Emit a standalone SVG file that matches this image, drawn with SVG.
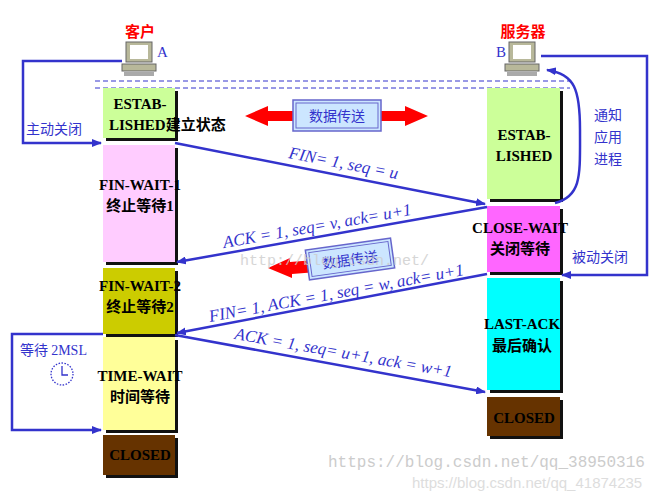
<svg xmlns="http://www.w3.org/2000/svg" width="664" height="499" viewBox="0 0 664 499">
<defs>
<marker id="ah" markerWidth="10" markerHeight="8" refX="9" refY="4" orient="auto" markerUnits="userSpaceOnUse"><path d="M0,0 L10,4 L0,8 z" fill="#3333cc"/></marker>
<g id="pc"><rect x="4" y="0" width="26" height="20" fill="#b8b89a" stroke="#666" stroke-width="1"/><rect x="8" y="3" width="18" height="14" fill="#fff"/><rect x="0" y="22" width="34" height="7" fill="#b8b89a" stroke="#666"/><rect x="2" y="30" width="30" height="4" fill="#aaa"/></g>
</defs>
<style>
.st{font-family:"Liberation Serif","Noto Sans CJK SC",serif;font-weight:bold;font-size:15px;fill:#000;text-anchor:middle}
.bl{font-family:"Liberation Serif",serif;font-style:italic;font-size:17px;fill:#3333cc}
.cn{font-family:"Noto Sans CJK SC",sans-serif;font-size:14px;fill:#3333cc}
.ln{stroke:#3333cc;stroke-width:2.5;fill:none}
.sh{fill:#111}
</style>
<rect width="664" height="499" fill="#fff"/>
<text x="140" y="37" font-family="Noto Sans CJK SC,sans-serif" font-weight="bold" font-size="15" fill="#ff0000" text-anchor="middle">客户</text>
<text x="523" y="37" font-family="Noto Sans CJK SC,sans-serif" font-weight="bold" font-size="15" fill="#ff0000" text-anchor="middle">服务器</text>
<use href="#pc" x="122" y="42"/><use href="#pc" x="505" y="42"/>
<text x="157" y="57" font-family="Liberation Serif,serif" font-size="15" fill="#3333cc">A</text>
<text x="496" y="57" font-family="Liberation Serif,serif" font-size="15" fill="#3333cc">B</text>
<line x1="95" y1="81" x2="570" y2="81" stroke="#3333cc" stroke-dasharray="5,3"/>
<line x1="95" y1="88" x2="570" y2="88" stroke="#3333cc" stroke-dasharray="5,3"/>
<g id="c-estab"><rect x="106" y="91" width="72" height="50" class="sh"/><rect x="103" y="88" width="72" height="50" fill="#ccff99"/><text x="140" y="109" class="st">ESTAB-</text><text x="109" y="130" class="st" style="text-anchor:start">LISHED建立状态</text></g>
<g id="c-fw1"><rect x="106" y="148" width="72" height="117" class="sh"/><rect x="103" y="145" width="72" height="117" fill="#ffccff"/><text x="140" y="190" class="st">FIN-WAIT-1</text><text x="140" y="211" class="st">终止等待1</text></g>
<g id="c-fw2"><rect x="106" y="271" width="72" height="66" class="sh"/><rect x="103" y="268" width="72" height="66" fill="#cccc00"/><text x="140" y="291" class="st">FIN-WAIT-2</text><text x="140" y="312" class="st">终止等待2</text></g>
<g id="c-tw"><rect x="106" y="340" width="72" height="93" class="sh"/><rect x="103" y="337" width="72" height="93" fill="#ffff99"/><text x="140" y="381" class="st">TIME-WAIT</text><text x="140" y="402" class="st">时间等待</text></g>
<g id="c-closed"><rect x="106" y="438" width="72" height="40" class="sh"/><rect x="103" y="435" width="72" height="40" fill="#663300"/><text x="140" y="460" class="st">CLOSED</text></g>
<g id="s-estab"><rect x="490" y="91" width="73" height="111" class="sh"/><rect x="487" y="88" width="73" height="111" fill="#ccff99"/><text x="524" y="140" class="st">ESTAB-</text><text x="524" y="161" class="st">LISHED</text></g>
<g id="s-cw"><rect x="490" y="209" width="73" height="66" class="sh"/><rect x="487" y="206" width="73" height="66" fill="#ff66ff"/><text x="520" y="233" class="st">CLOSE-WAIT</text><text x="520" y="254" class="st">关闭等待</text></g>
<g id="s-la"><rect x="490" y="281" width="73" height="112" class="sh"/><rect x="487" y="278" width="73" height="112" fill="#00ffff"/><text x="522" y="329" class="st">LAST-ACK</text><text x="522" y="351" class="st">最后确认</text></g>
<g id="s-closed"><rect x="490" y="400" width="73" height="39" class="sh"/><rect x="487" y="397" width="73" height="39" fill="#663300"/><text x="524" y="423" class="st">CLOSED</text></g>
<g id="data1"><path d="M245,116 L268,106 L268,111 L405,111 L405,106 L428,116 L405,126 L405,121 L268,121 L268,126 z" fill="#ff0000"/><rect x="293" y="100" width="88" height="31" fill="#cce6ff" stroke="#6666cc" stroke-width="1.5"/><rect x="296" y="103" width="82" height="25" fill="none" stroke="#6666cc"/><text x="337" y="121" class="cn" text-anchor="middle" font-size="15">数据传送</text></g>
<g id="data2"><path d="M268,268 L290,258 L290,262 L315,260 L317,272 L292,274 L292,278 z" fill="#ff0000"/><g transform="rotate(-8 350 259)"><rect x="307" y="244" width="86" height="30" fill="#cce6ff" stroke="#6666cc" stroke-width="1.5"/><rect x="310" y="247" width="80" height="24" fill="none" stroke="#6666cc"/><text x="350" y="265" class="cn" text-anchor="middle" font-size="15">数据传送</text></g></g>
<g id="connectors">
<path class="ln" d="M122,61 L23,61 L23,143 L101,143" marker-end="url(#ah)"/>
<path class="ln" d="M541,56 L647,56 L647,275 L562,275" marker-end="url(#ah)"/>
<path class="ln" d="M555,203 C582,196 580,175 580,130 C580,90 575,74 547,70" marker-end="url(#ah)"/>
<path class="ln" d="M103,334 L12,334 L12,430 L101,430" marker-end="url(#ah)"/>
<line class="ln" x1="175" y1="143" x2="485" y2="204" marker-end="url(#ah)"/>
<line class="ln" x1="487" y1="207" x2="177" y2="262" marker-end="url(#ah)"/>
<line class="ln" x1="487" y1="274" x2="177" y2="333" marker-end="url(#ah)"/>
<line class="ln" x1="175" y1="335" x2="485" y2="392" marker-end="url(#ah)"/>
</g>
<text x="26" y="134" class="cn">主动关闭</text>
<text x="572" y="262" class="cn">被动关闭</text>
<text x="594" y="120" class="cn">通知</text><text x="594" y="142" class="cn">应用</text><text x="594" y="164" class="cn">进程</text>
<text x="20" y="355" class="cn">等待 <tspan font-family="Liberation Serif,serif">2MSL</tspan></text>
<g id="clock"><circle cx="62" cy="374" r="11" fill="#fff" stroke="#3333cc" stroke-width="1.3" stroke-dasharray="1.5,1.5"/><path d="M62,366 L62,375 L68,375" stroke="#3333cc" stroke-width="1.3" fill="none"/></g>
<text class="bl" transform="translate(288,158) rotate(11)">FIN= 1, seq = u</text>
<text class="bl" transform="translate(224,248) rotate(-10)">ACK = 1, seq= v, ack= u+1</text>
<text class="bl" transform="translate(210,322) rotate(-10.5)">FIN= 1, ACK = 1, seq = w, ack= u+1</text>
<text class="bl" transform="translate(234,339) rotate(10)">ACK = 1, seq= u+1, ack = w+1</text>
<text x="240" y="265" font-family="Liberation Mono,monospace" font-size="15" fill="#ccc" opacity="0.8">http://blog.csdn.net/</text>
<text x="328" y="467" font-family="Liberation Mono,monospace" font-size="16" fill="#ccc">https://blog.csdn.net/qq_38950316</text>
<text x="412" y="488" font-family="Liberation Sans,sans-serif" font-size="15" fill="#ddd">https://blog.csdn.net/qq_41874235</text>
</svg>
